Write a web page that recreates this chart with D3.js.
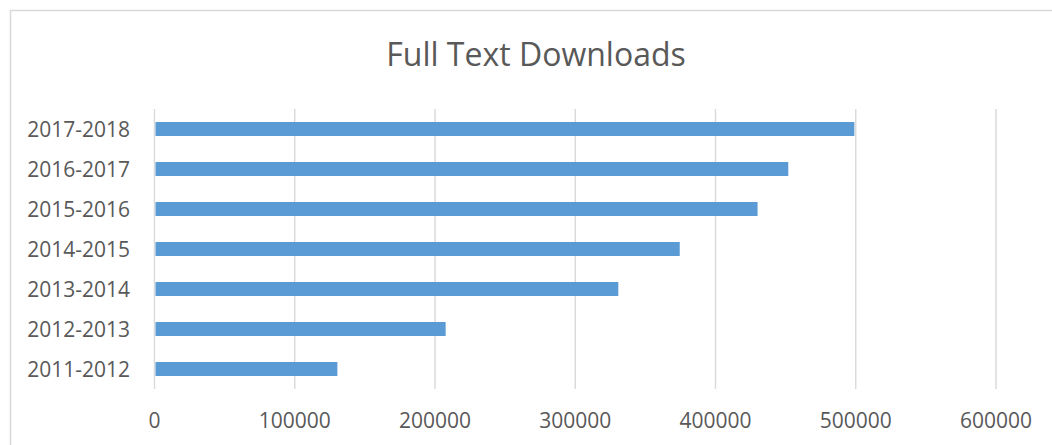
<!DOCTYPE html>
<html>
<head>
<meta charset="utf-8">
<script src="https://cdn.jsdelivr.net/npm/d3@7"></script>
<style>
  html, body { margin: 0; padding: 0; background: #fff; }
  svg { display: block; }
</style>
</head>
<body>
<svg id="chart"></svg>
<script>
// data
const years = ["2011-2012", "2012-2013", "2013-2014", "2014-2015", "2015-2016", "2016-2017", "2017-2018"];
const downloads = [130400, 207600, 330700, 374500, 430000, 451900, 499000];
const ticks = [0, 100000, 200000, 300000, 400000, 500000, 600000];

const width = 1052;
const height = 445;
const margin = { top: 109, right: 56, bottom: 56, left: 154.5 };
const textColor = "#595959";
const gridColor = "#d9d9d9";
const barColor = "#5b9bd5";

const svg = d3.select("#chart")
  .attr("width", width)
  .attr("height", height);

// outer chart border (runs off the right/bottom edge in the reference)
svg.append("rect")
  .attr("x", 10.5)
  .attr("y", 10.5)
  .attr("width", width + 20)
  .attr("height", height + 20)
  .attr("fill", "#fff")
  .attr("stroke", gridColor)
  .attr("stroke-width", 1.5);

const x = d3.scaleLinear()
  .domain([0, 600000])
  .range([margin.left, width - margin.right]);

const y = d3.scaleBand()
  .domain(years.slice().reverse())
  .range([margin.top, height - margin.bottom])
  .paddingInner(0.65)
  .paddingOuter(0.325);

// vertical gridlines
svg.append("g")
  .selectAll("line")
  .data(ticks)
  .enter()
  .append("line")
  .attr("x1", (d) => x(d))
  .attr("x2", (d) => x(d))
  .attr("y1", margin.top)
  .attr("y2", height - margin.bottom)
  .attr("stroke", gridColor)
  .attr("stroke-width", 1.4);

// bars
svg.append("g")
  .selectAll("rect")
  .data(years)
  .enter()
  .append("rect")
  .attr("x", x(0) + 1)
  .attr("y", (d) => y(d))
  .attr("width", (d, i) => x(downloads[i]) - x(0) - 1)
  .attr("height", y.bandwidth())
  .attr("fill", barColor);

// category labels
svg.append("g")
  .selectAll("text")
  .data(years)
  .enter()
  .append("text")
  .text((d) => d)
  .attr("x", 130)
  .attr("y", (d) => y(d) + y.bandwidth() / 2)
  .attr("dy", "0.36em")
  .attr("text-anchor", "end")
  .attr("font-family", "'Open Sans', sans-serif")
  .attr("font-size", 21)
  .attr("fill", textColor);

// value axis labels
svg.append("g")
  .selectAll("text")
  .data(ticks)
  .enter()
  .append("text")
  .text((d) => d)
  .attr("x", (d) => x(d))
  .attr("y", 428)
  .attr("text-anchor", "middle")
  .attr("font-family", "'Open Sans', sans-serif")
  .attr("font-size", 21)
  .attr("fill", textColor);

// title
svg.append("text")
  .text("Full Text Downloads")
  .attr("x", 536)
  .attr("y", 66)
  .attr("text-anchor", "middle")
  .attr("font-family", "'Open Sans', sans-serif")
  .attr("font-size", 32)
  .attr("fill", textColor);
</script>
</body>
</html>
